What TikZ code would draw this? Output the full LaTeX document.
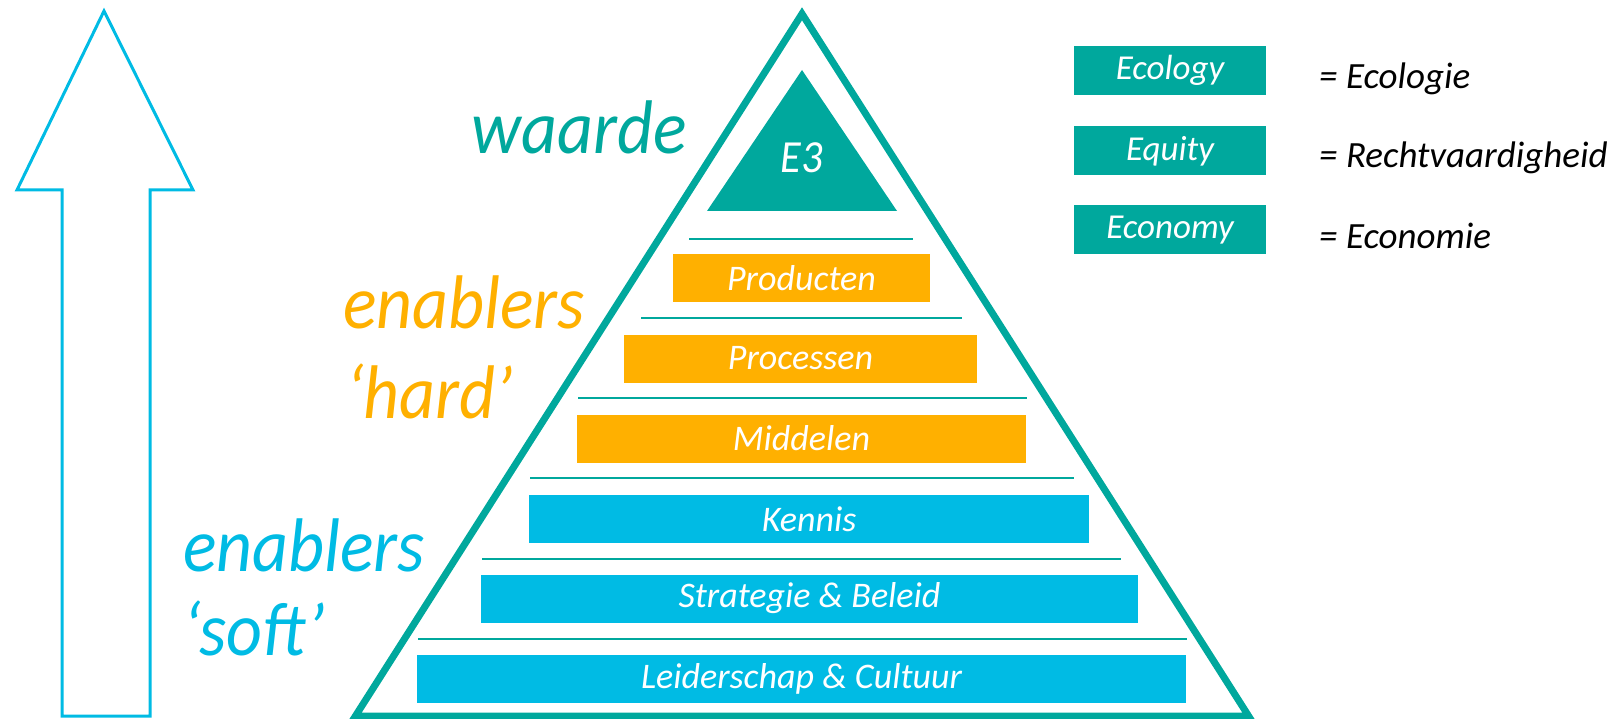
\documentclass[tikz,border=0pt]{standalone}
\usepackage{fontspec}
\setmainfont{Carlito}
\newfontfamily\condfont{Carlito}[FakeStretch=0.92]
\usepackage{tikz}
\usetikzlibrary{positioning}
\definecolor{eteal}{RGB}{0,168,157}
\definecolor{eorange}{RGB}{255,176,0}
\definecolor{eblue}{RGB}{0,187,228}
\tikzset{layer/.style={rectangle,draw=none,text=white,
inner sep=0pt,minimum height=48pt,font=\itshape\fontsize{36}{40}\selectfont}}
\tikzset{hardlayer/.style={layer,fill=eorange}}
\tikzset{softlayer/.style={layer,fill=eblue}}
\tikzset{sepline/.style={draw=eteal,line width=2pt}}
\tikzset{legendbox/.style={rectangle,fill=eteal,text=white,
inner sep=0pt,minimum height=49pt, minimum width=192pt,font=\itshape\fontsize{35}{40}\selectfont}}
\tikzset{legendtext/.style={anchor=base west,inner sep=0pt,font=\itshape\fontsize{37}{40}\selectfont}}
\tikzset{bigword/.style={anchor=base west,inner sep=0pt,font=\condfont\itshape\fontsize{76}{80}\selectfont}}

\begin{document}
\begin{tikzpicture}[x=1pt,y=-1pt]
        \useasboundingbox (0,0) rectangle (1613,719);

        % arrow on the left
        \draw[eblue,line width=3pt] (62,716) -- (62,190) -- (17,190) -- (104,11)
            -- (193,190) -- (150,190) -- (150,716) -- cycle;

        % pyramid
        \coordinate (top) at (802,13.8);
        \coordinate (bl) at (355.3,716.2);
        \coordinate (br) at (1248.7,716.2);
        \draw[eteal,line width=7pt] (top) -- (bl) -- (br) -- cycle;
        \fill[eteal] (802,70) -- (707,211) -- (897,211) -- cycle;
        \node[text=white,font=\condfont\itshape\fontsize{46}{50}\selectfont] (ethree) at (802,158) {E3};

        \node[hardlayer,minimum width=257pt] (prod) at (801.5,278) {Producten};
        \node[hardlayer,minimum width=353pt] (proc) at (800.5,358.5) {Processen};
        \node[hardlayer,minimum width=449pt] (midd) at (801.5,438.5) {Middelen};
        \node[softlayer,minimum width=560pt] (kenn) at (809,519) {Kennis};
        \node[softlayer,minimum width=657pt] (strat) at (809.5,598.5) {Strategie \& Beleid};
        \node[softlayer,minimum width=769pt] (leid) at (801.5,679) {Leiderschap \& Cultuur};

        \draw[sepline] (689,239) -- (913,239);
        \draw[sepline] (641,318) -- (962,318);
        \draw[sepline] (578,398) -- (1027,398);
        \draw[sepline] (530,478) -- (1074,478);
        \draw[sepline] (482,559) -- (1121,559);
        \draw[sepline] (418,639) -- (1187,639);

        % words beside the pyramid
        \node[bigword,text=eteal] (waarde) at (471,154) {waarde};
        \node[bigword,text=eorange] (hardA) at (343,328) {enablers};
        \node[bigword,text=eorange] (hardB) at (346,418) {‘hard’};
        \node[bigword,text=eblue] (softA) at (183,571) {enablers};
        \node[bigword,text=eblue] (softB) at (183,655) {‘soft’};

        % legend
        \node[legendbox] (ecol) at (1170,70.5) {Ecology};
        \node[legendbox] (equi) at (1170,151) {Equity};
        \node[legendbox] (econ) at (1170,230) {Economy};
        \node[legendtext] (ecolt) at (1319,88.5) {= Ecologie};
        \node[legendtext] (equit) at (1319,168) {= Rechtvaardigheid};
        \node[legendtext] (econt) at (1319,248) {= Economie};

\end{tikzpicture}
\end{document}
